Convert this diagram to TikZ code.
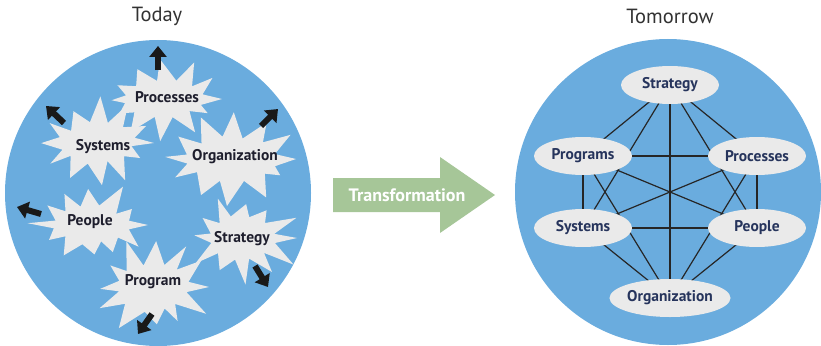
\documentclass[tikz,border=0pt]{standalone}
\usepackage{fontspec}
\setmainfont{PT Sans}
\usetikzlibrary{shapes.geometric,arrows.meta}
\definecolor{bluec}{RGB}{106,172,222}
\definecolor{grayc}{RGB}{234,234,234}
\definecolor{greenc}{RGB}{166,198,152}
\definecolor{navy}{RGB}{38,52,92}
\definecolor{darkt}{RGB}{30,30,45}
\definecolor{titlec}{RGB}{50,50,50}
\pgfdeclarelayer{bg}
\pgfdeclarelayer{edges}
\pgfsetlayers{bg,edges,main}
\tikzset{
  bigcirc/.style={circle,fill=bluec,minimum size=306pt,inner sep=0pt},
  title/.style={font=\fontsize{20.5}{24}\selectfont,text=titlec},
  oval/.style={ellipse,fill=grayc,minimum width=98pt,minimum height=38pt,inner sep=0pt,
    font=\bfseries\fontsize{15.5}{18}\selectfont,text=navy},
  link/.style={line width=1.2pt,black!85},
  burstlabel/.style={inner sep=0pt,font=\bfseries\fontsize{15.5}{18}\selectfont,text=darkt},
  bigarrow/.style={line width=6pt,black!90,-{Triangle[width=17pt,length=11pt]}},
}
% #1 x, #2 y, #3 a, #4 b, #5 seed
\newcommand\myburst[5]{%
  \pgfmathsetseed{#5}%
  \fill[grayc] ({#1+#3+20},#2)
    \foreach \i [evaluate=\i as \ang using {\i*360/24+5*rand},
                 evaluate=\i as \len using {mod(\i,2)==0 ? 11+16*rnd : 2*rand}] in {1,...,23}
    { -- ({#1+(#3+\len)*cos(\ang)},{#2+(#4+\len)*sin(\ang)}) } -- cycle;}
\begin{document}
\begin{tikzpicture}[x=1pt,y=-1pt]
\useasboundingbox (0,0) rectangle (821,345);
\begin{pgfonlayer}{bg}
\node[bigcirc] (lc) at (158,193) {};
\node[bigcirc] (rc) at (668,192) {};
\end{pgfonlayer}
\node[title] (today) at (157,16) {Today};
\node[title] (tomorrow) at (670,16) {Tomorrow};
% right side
\node[oval] (st) at (670,85) {Strategy};
\node[oval] (pg) at (583,156) {Programs};
\node[oval] (pc) at (757,156) {Processes};
\node[oval] (sy) at (583,228) {Systems};
\node[oval] (pe) at (757,228) {People};
\node[oval,minimum width=94pt] (or) at (670,298) {Organization};
\begin{pgfonlayer}{edges}
\foreach \a/\b in {st/pg,st/pc,st/sy,st/pe,st/or,pg/pc,pg/sy,pg/pe,pg/or,pc/sy,pc/pe,pc/or,sy/pe,sy/or,pe/or}
  \draw[link] (\a.center) -- (\b.center);
\end{pgfonlayer}
% transformation arrow
\fill[greenc] (333,178) -- (440,178) -- (440,157) -- (495,195) -- (440,233) -- (440,212) -- (333,212) -- cycle;
\node[font=\bfseries\fontsize{18}{20}\selectfont,text=white] (tr) at (407,195) {Transformation};
% left side starbursts
\myburst{164}{99}{38}{18}{11}
\myburst{97}{143}{37}{20}{23}
\myburst{231}{159}{45}{21}{37}
\myburst{91}{225}{37}{18}{41}
\myburst{243}{238}{34}{21}{53}
\myburst{153}{287}{36}{24}{67}
\node[burstlabel] (bpc) at (167,97) {Processes};
\node[burstlabel] (bsy) at (103,147) {Systems};
\node[burstlabel] (bor) at (235,157) {Organization};
\node[burstlabel] (bpe) at (90,222) {People};
\node[burstlabel] (bst) at (242,239) {Strategy};
\node[burstlabel] (bpr) at (153,282) {Program};
% arrows
\coordinate (a1s) at (158,70); \coordinate (a1e) at (158,46);
\coordinate (a2s) at (64,123); \coordinate (a2e) at (46,106);
\coordinate (a3s) at (261,126); \coordinate (a3e) at (278,109);
\coordinate (a4s) at (41,214); \coordinate (a4e) at (17,207);
\coordinate (a5s) at (255,266); \coordinate (a5e) at (268,287);
\coordinate (a6s) at (152,314); \coordinate (a6e) at (138,334);
\foreach \s/\e in {a1s/a1e,a2s/a2e,a3s/a3e,a4s/a4e,a5s/a5e,a6s/a6e}
  \draw[bigarrow] (\s) -- (\e);
\end{tikzpicture}
\end{document}
